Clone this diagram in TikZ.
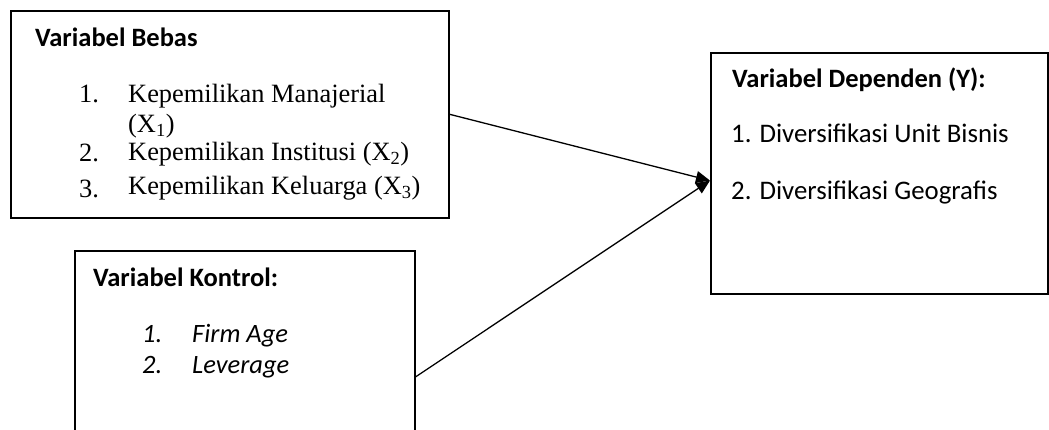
\documentclass[tikz,border=0pt]{standalone}
\usepackage{fontspec}
\setmainfont{Carlito}
\newfontfamily\tnr{Liberation Serif}
\usetikzlibrary{arrows.meta,calc}
\tikzset{
  boxn/.style={draw, line width=1.6pt, inner sep=0pt, anchor=north west},
  ttl/.style={anchor=base west, inner sep=0pt, font=\fontsize{26.5}{30}\selectfont\bfseries},
  cal/.style={anchor=base west, inner sep=0pt, font=\fontsize{26.8}{30}\selectfont},
  cali/.style={anchor=base west, inner sep=0pt, font=\fontsize{26.5}{30}\selectfont\itshape},
  tms/.style={anchor=base west, inner sep=0pt, font=\fontsize{26.4}{30}\selectfont\tnr},
  conn/.style={line width=1.3pt, -{Triangle[length=14pt,width=12pt]}}
}
\begin{document}
\begin{tikzpicture}[x=1pt,y=-1pt]
\useasboundingbox (0,0) rectangle (1049,430);
\node[boxn, minimum width=438pt, minimum height=207pt] (bebas) at (10,10) {};
\node[boxn, minimum width=340pt, minimum height=185pt] (kontrol) at (74,250) {};
\node[boxn, minimum width=337pt, minimum height=241pt] (dep) at (710,52) {};
% Box 1 texts
\node[ttl] (t1) at (35,47) {Variabel Bebas};
\node[tms] (n11) at (79,103) {1.};
\node[tms] (i11) at (128,103) {Kepemilikan Manajerial};
\node[tms] (i11b) at (128,133) {(X\textsubscript{1})};
\node[tms] (n12) at (79,162) {2.};
\node[tms] (i12) at (128,161) {Kepemilikan Institusi (X\textsubscript{2})};
\node[tms] (n13) at (79,198) {3.};
\node[tms] (i13) at (128,195) {Kepemilikan Keluarga (X\textsubscript{3})};
% Box 2 texts
\node[ttl] (t2) at (93,287) {Variabel Kontrol:};
\node[cali] (n21) at (142,342) {1.};
\node[cali] (i21) at (192,342) {Firm Age};
\node[cali] (n22) at (142,373) {2.};
\node[cali] (i22) at (192,373) {Leverage};
% Box 3 texts
\node[ttl] (t3) at (732,88) {Variabel Dependen (Y):};
\node[cal] (i31) at (731,143) {1. Diversifikasi Unit Bisnis};
\node[cal] (i32) at (731,200) {2. Diversifikasi Geografis};
% connectors
\coordinate (tip) at ($(dep.north west)!0.53!(dep.south west)$);
\draw[conn] (bebas.east) -- (tip);
\draw[conn] ($(kontrol.north east)!0.68!(kontrol.south east)$) -- (tip);
\end{tikzpicture}
\end{document}
